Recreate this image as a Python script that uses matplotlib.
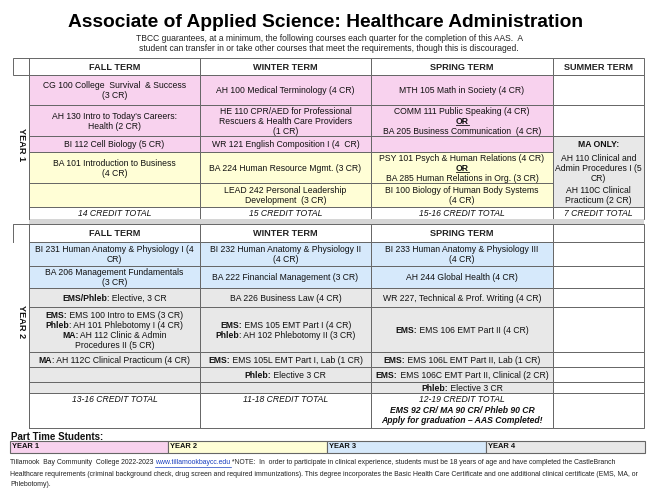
import re
import matplotlib
matplotlib.use('Agg')
import matplotlib.pyplot as plt
from matplotlib import font_manager
from matplotlib.patches import Rectangle

installed = {f.name for f in font_manager.fontManager.ttflist}
SANS = 'Liberation Sans' if 'Liberation Sans' in installed else 'DejaVu Sans'
NARROW = 'Liberation Sans Narrow' if 'Liberation Sans Narrow' in installed else SANS
plt.rcParams['font.family'] = [SANS, 'DejaVu Sans']

# ---- text content ----
title = 'Associate of Applied Science: Healthcare Administration'
subtitle = ['TBCC guarantees, at a minimum, the following courses each quarter for the completion of this AAS.  A',
            'student can transfer in or take other courses that meet the requirements, though this is discouraged.']
terms = ['FALL TERM', 'WINTER TERM', 'SPRING TERM', 'SUMMER TERM']
year_labels = ['YEAR 1', 'YEAR 2']

y1_fall = ['CG 100 College  Survival  & Success\n(3 CR)',
           "AH 130 Intro to Today's Careers:\nHealth (2 CR)",
           'BI 112 Cell Biology (5 CR)',
           'BA 101 Introduction to Business\n(4 CR)',
           '']
y1_winter = ['AH 100 Medical Terminology (4 CR)',
             'HE 110 CPR/AED for Professional\nRescuers & Health Care Providers\n(1 CR)',
             'WR 121 English Composition I (4  CR)',
             'BA 224 Human Resource Mgmt. (3 CR)',
             'LEAD 242 Personal Leadership\nDevelopment  (3 CR)']
y1_spring = ['MTH 105 Math in Society (4 CR)',
             'COMM 111 Public Speaking (4 CR)\n__OR__\nBA 205 Business Communication  (4 CR)',
             '',
             'PSY 101 Psych & Human Relations (4 CR)\n__OR__\nBA 285 Human Relations in Org. (3 CR)',
             'BI 100 Biology of Human Body Systems\n(4 CR)']
y1_summer = ['', '', '**MA ONLY:**',
             'AH 110 Clinical and\nAdmin Procedures I (5\nCR)',
             'AH 110C Clinical\nPracticum (2 CR)']
y1_totals = ['14 CREDIT TOTAL', '15 CREDIT TOTAL', '15-16 CREDIT TOTAL', '7 CREDIT TOTAL']

y2_fall = ['BI 231 Human Anatomy & Physiology I (4\nCR)',
           'BA 206 Management Fundamentals\n(3 CR)',
           '**EMS/Phleb**: Elective, 3 CR',
           '**EMS:** EMS 100 Intro to EMS (3 CR)\n**Phleb**: AH 101 Phlebotomy I (4 CR)\n**MA:** AH 112 Clinic & Admin\nProcedures II (5 CR)',
           '**MA**: AH 112C Clinical Practicum (4 CR)',
           '', '']
y2_winter = ['BI 232 Human Anatomy & Physiology II\n(4 CR)',
             'BA 222 Financial Management (3 CR)',
             'BA 226 Business Law (4 CR)',
             '**EMS:** EMS 105 EMT Part I (4 CR)\n**Phleb**: AH 102 Phlebotomy II (3 CR)',
             '**EMS:** EMS 105L EMT Part I, Lab (1 CR)',
             '**Phleb:** Elective 3 CR',
             '']
y2_spring = ['BI 233 Human Anatomy & Physiology III\n(4 CR)',
             'AH 244 Global Health (4 CR)',
             'WR 227, Technical & Prof. Writing (4 CR)',
             '**EMS:** EMS 106 EMT Part II (4 CR)',
             '**EMS:** EMS 106L EMT Part II, Lab (1 CR)',
             '**EMS:** EMS 106C EMT Part II, Clinical (2 CR)',
             '**Phleb:** Elective 3 CR']
y2_summer = ['', '', '', '', '', '', '']
y2_totals = ['13-16 CREDIT TOTAL', '11-18 CREDIT TOTAL',
             '12-19 CREDIT TOTAL\n##EMS 92 CR/ MA 90 CR/ Phleb 90 CR\n##Apply for graduation \u2013 AAS Completed!', '']

part_time_label = 'Part Time Students:'
part_time_years = ['YEAR 1', 'YEAR 2', 'YEAR 3', 'YEAR 4']

footer_url = 'www.tillamookbaycc.edu'
footer = ['Tillamook  Bay Community  College 2022-2023 ',
          ' *NOTE:  In  order to participate in clinical experience, students must be 18 years of age and have completed the CastleBranch',
          'Healthcare requirements (criminal background check, drug screen and required immunizations). This degree incorporates the Basic Health Care Certificate and one additional clinical certificate (EMS, MA, or',
          'Phlebotomy).']

# ---- layout (pixels) ----
col_x = [13, 29, 200, 371, 553, 644]
y1_rows = [58, 75, 105, 136, 152, 183, 207, 219]
y2_rows = [224, 242, 266, 288, 307, 352, 367, 382, 393, 428]

PINK = '#F8D2EE'
YELLOW = '#FFFED6'
BLUE = '#D6E9FB'
GRAY = '#E8E8E8'
BAND = '#D6D6D6'
LINE = '#666666'
FS = 6.2
LH = 10.0

fig = plt.figure(figsize=(6.51, 5.03), dpi=100)
ax = fig.add_axes([0, 0, 1, 1])
ax.set_xlim(0, 651)
ax.set_ylim(503, 0)
ax.axis('off')
renderer = fig.canvas.get_renderer()


def width(s, **kw):
    t = ax.text(0, 0, '|' + s + '|', **kw)
    w = t.get_window_extent(renderer).width
    t.remove()
    t = ax.text(0, 0, '||', **kw)
    w -= t.get_window_extent(renderer).width
    t.remove()
    return w


def fit(s, target, ref=10, **kw):
    return ref * target / width(s, fontsize=ref, **kw)


def box(x0, x1, y0, y1, face='white', lw=0.7):
    ax.add_patch(Rectangle((x0, y0), x1 - x0, y1 - y0, facecolor=face,
                           edgecolor=LINE, linewidth=lw))


def rich_line(xc, y, line, size=FS, clip=None):
    style, weight = 'normal', 'normal'
    underline = False
    if line.startswith('__'):
        line, weight, underline = line.strip('_'), 'bold', True
    elif line.startswith('##'):
        line, weight, style = line[2:], 'bold', 'italic'
    elif line.startswith('//'):
        line, style = line[2:], 'italic'
    segs = []
    for p in re.split(r'(\*\*.*?\*\*)', line):
        if not p:
            continue
        if p.startswith('**'):
            segs.append((p[2:-2], 'bold'))
        else:
            segs.append((p, weight))
    ws = [width(s, fontsize=size, fontweight=w, fontstyle=style) for s, w in segs]
    x = xc - sum(ws) / 2
    base = y + 0.36 * size / 0.72
    for (s, w), wd in zip(segs, ws):
        t = ax.text(x, base, s, fontsize=size, fontweight=w, fontstyle=style,
                    ha='left', va='baseline', color='#111111')
        if clip is not None:
            t.set_clip_path(clip)
        if underline:
            ax.plot([x, x + wd], [base + 1.2, base + 1.2], color='#111111', lw=0.6)
        x += wd


def cell_text(xc, yc, txt, top=None, size=FS, lh=LH, clip=None):
    if not txt:
        return
    lines = txt.split('\n')
    n = len(lines)
    for i, line in enumerate(lines):
        if top is None:
            y = yc + (i - (n - 1) / 2) * lh
        else:
            y = top + lh / 2 + i * lh
        rich_line(xc, y, line, size=size, clip=clip)


# ---- title ----
ax.text(326, 22, title, fontsize=fit(title, 514, fontweight='bold'), fontweight='bold',
        ha='center', va='center', color='black')
sub_fs = fit(subtitle[0], 386, family=[NARROW, SANS])
for i, s in enumerate(subtitle):
    ax.text(329, 38 + i * 10, s, fontsize=sub_fs, family=[NARROW, SANS],
            ha='center', va='center', color='#222222')


def term_block(rows, columns, summer, fills, summer_fill, merged, totals, header_terms, top_totals):
    # header row
    for j in range(4):
        box(col_x[j + 1], col_x[j + 2], rows[0], rows[1])
        if header_terms[j]:
            ax.text((col_x[j + 1] + col_x[j + 2]) / 2, (rows[0] + rows[1]) / 2 + 0.5, header_terms[j],
                    fontsize=6.6, fontweight='bold', ha='center', va='center', color='#222222')
    nrow = len(rows) - 3
    for i in range(nrow):
        y0, y1 = rows[i + 1], rows[i + 2]
        for j, col in enumerate(columns):
            x0, x1 = col_x[j + 1], col_x[j + 2]
            box(x0, x1, y0, y1, fills[i])
            clip = Rectangle((x0, y0), x1 - x0, y1 - y0, transform=ax.transData)
            cell_text((x0 + x1) / 2, (y0 + y1) / 2, col[i], clip=clip)
    # summer column
    x0, x1 = col_x[4], col_x[5]
    for i in range(nrow):
        y0, y1 = rows[i + 1], rows[i + 2]
        if merged is None or not (merged[0] <= i <= merged[1]):
            box(x0, x1, y0, y1, 'white')
    if merged is not None:
        box(x0, x1, rows[merged[0] + 1], rows[merged[1] + 2], summer_fill)
    for i in range(nrow):
        y0, y1 = rows[i + 1], rows[i + 2]
        cell_text((x0 + x1) / 2, (y0 + y1) / 2, summer[i])
    # totals
    y0, y1 = rows[-2], rows[-1]
    for j in range(4):
        x0, x1 = col_x[j + 1], col_x[j + 2]
        box(x0, x1, y0, y1)
        txt = totals[j]
        if txt:
            txt = '\n'.join(l if l.startswith('##') else '//' + l for l in txt.split('\n'))
            if top_totals:
                cell_text((x0 + x1) / 2, None, txt, top=y0 + 1, lh=10.5)
            else:
                cell_text((x0 + x1) / 2, (y0 + y1) / 2, txt)


# year 1
box(col_x[0], col_x[1], y1_rows[0], y1_rows[1])
ax.plot([col_x[1], col_x[1]], [y1_rows[0], y1_rows[-1]], color=LINE, lw=0.7)
term_block(y1_rows, [y1_fall, y1_winter, y1_spring], y1_summer,
           [PINK, PINK, PINK, YELLOW, YELLOW], GRAY, (2, 4), y1_totals, terms, False)
ax.add_patch(Rectangle((col_x[1], y1_rows[-1]), col_x[5] - col_x[1], y2_rows[0] - y1_rows[-1],
                       facecolor=BAND, edgecolor='none'))

# year 2
ax.plot([col_x[0], col_x[0], col_x[1]], [y2_rows[1], y2_rows[0], y2_rows[0]], color=LINE, lw=0.7)
ax.plot([col_x[1], col_x[1]], [y2_rows[0], y2_rows[-1]], color=LINE, lw=0.7)
term_block(y2_rows, [y2_fall, y2_winter, y2_spring], y2_summer,
           [BLUE, BLUE, GRAY, GRAY, GRAY, GRAY, GRAY], GRAY, None, y2_totals, terms[:3] + [''], True)

for k, (label, rows) in enumerate(zip(year_labels, [y1_rows, y2_rows])):
    yc = 145 if k == 0 else 322
    ax.text((col_x[0] + col_x[1]) / 2, yc, label, rotation=-90, fontsize=6.6, fontweight='bold',
            ha='center', va='center', color='#111111')

# ---- part time students ----
ax.text(11, 437, part_time_label, fontsize=7.0, fontweight='bold', ha='left', va='center', color='#111111')
pt_x = [10, 168, 327, 486, 645]
for j, (lab, face) in enumerate(zip(part_time_years, [PINK, YELLOW, BLUE, GRAY])):
    box(pt_x[j], pt_x[j + 1], 441, 453, face, lw=0.8)
    ax.text(pt_x[j] + 2, 447, lab, fontsize=5.4, fontweight='bold', ha='left', va='center',
            family=[NARROW, SANS], color='#111111')

# ---- footer ----
ffam = [NARROW, SANS]
ffs = fit(footer[2], 631, family=ffam)
x = 10
for s, col, ul in [(footer[0], '#222222', False), (footer_url, '#1a3fbf', True), (footer[1], '#222222', False)]:
    w = width(s, fontsize=ffs, family=ffam)
    ax.text(x, 463, s, fontsize=ffs, family=ffam, ha='left', va='center', color=col)
    if ul:
        ax.plot([x, x + w], [466.5, 466.5], color=col, lw=0.5)
    x += w
ax.text(10, 474, footer[2], fontsize=ffs, family=ffam, ha='left', va='center', color='#222222')
ax.text(10, 484, footer[3], fontsize=ffs, family=ffam, ha='left', va='center', color='#222222')

fig.savefig('out.png', dpi=100)
